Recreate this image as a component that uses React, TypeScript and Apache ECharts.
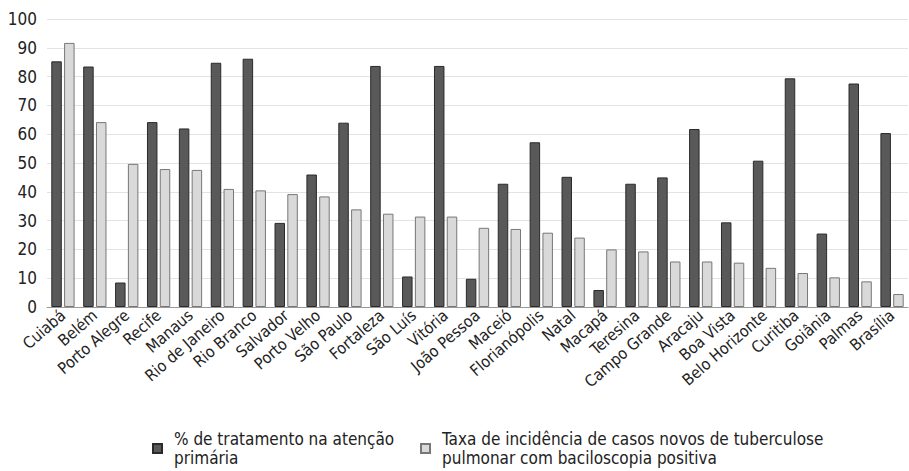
import React, { useEffect, useRef } from "react";
import * as echarts from "echarts";

const categories = [
  "Cuiabá", "Belém", "Porto Alegre", "Recife", "Manaus", "Rio de Janeiro", "Rio Branco",
  "Salvador", "Porto Velho", "São Paulo", "Fortaleza", "São Luís", "Vitória", "João Pessoa",
  "Maceió", "Florianópolis", "Natal", "Macapá", "Teresina", "Campo Grande", "Aracaju",
  "Boa Vista", "Belo Horizonte", "Curitiba", "Goiânia", "Palmas", "Brasília",
];

const tratamento = [
  85.3, 83.5, 8.5, 64.2, 62.0, 84.8, 86.2, 29.2, 46.0, 64.0, 83.7, 10.6, 83.7, 9.8,
  42.8, 57.2, 45.2, 5.9, 42.8, 45.0, 61.8, 29.4, 50.8, 79.4, 25.5, 77.6, 60.4,
];

const incidencia = [
  91.7, 64.2, 49.7, 47.9, 47.6, 41.0, 40.5, 39.2, 38.4, 33.9, 32.4, 31.4, 31.4, 27.5,
  27.1, 25.8, 24.1, 20.0, 19.3, 15.8, 15.8, 15.4, 13.6, 11.8, 10.3, 8.9, 4.5,
];

const name1 = "% de tratamento na atenção\nprimária";
const name2 = "Taxa de incidência de casos novos de tuberculose\npulmonar com baciloscopia positiva";

const FONT = "'DejaVu Sans Condensed', 'Liberation Sans Narrow', sans-serif";

export default function App() {
  const ref = useRef<HTMLDivElement>(null);
  useEffect(() => {
    document.body.style.margin = "0";
    const chart = echarts.init(ref.current!, null, { renderer: "svg" });
    const legendText = {
      fontFamily: FONT,
      fontSize: 17,
      color: "#222",
      lineHeight: 19,
      padding: [19, 0, 0, 7],
    };
    chart.setOption({
      animation: false,
      textStyle: { fontFamily: FONT },
      grid: { left: 47, right: 1, top: 19, bottom: 164, containLabel: false },
      legend: [
        {
          data: [name1],
          left: 152,
          top: 420,
          padding: 0,
          icon: "rect",
          itemWidth: 9,
          itemHeight: 9,
          textStyle: legendText,
          selectedMode: false,
        },
        {
          data: [name2],
          left: 420,
          top: 420,
          padding: 0,
          icon: "rect",
          itemWidth: 9,
          itemHeight: 9,
          textStyle: legendText,
          selectedMode: false,
        },
      ],
      xAxis: {
        type: "category",
        data: categories,
        axisLine: { show: true, lineStyle: { color: "#999", width: 1 } },
        axisTick: { show: false },
        axisLabel: {
          interval: 0,
          rotate: 41,
          fontFamily: FONT,
          fontSize: 16,
          color: "#222",
          margin: 6,
        },
      },
      yAxis: {
        type: "value",
        min: 0,
        max: 100,
        interval: 10,
        axisLine: { show: false },
        axisTick: { show: false },
        axisLabel: { fontFamily: FONT, fontSize: 17, color: "#222", margin: 10 },
        splitLine: { lineStyle: { color: "#e3e3e3", width: 1 } },
      },
      series: [
        {
          name: name1,
          type: "bar",
          data: tratamento,
          barGap: "22%",
          barCategoryGap: "27%",
          itemStyle: { color: "#595959", borderColor: "#2a2a2a", borderWidth: 1 },
        },
        {
          name: name2,
          type: "bar",
          data: incidencia,
          barGap: "22%",
          barCategoryGap: "27%",
          itemStyle: { color: "#d9d9d9", borderColor: "#777", borderWidth: 1 },
        },
      ],
    });
    return () => chart.dispose();
  }, []);
  return <div ref={ref} style={{ width: 909, height: 471 }} />;
}
